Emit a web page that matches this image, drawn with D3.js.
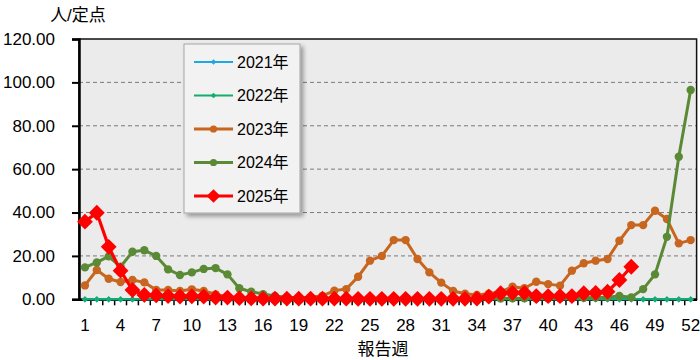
<!DOCTYPE html>
<html>
<head>
<meta charset="utf-8">
<script src="https://cdn.jsdelivr.net/npm/d3@7"></script>
<style>
  html, body { margin: 0; padding: 0; background: #fff; }
  svg { display: block; font-family: "Liberation Sans", "Noto Sans CJK JP", sans-serif; }
</style>
</head>
<body>
<svg width="700" height="360"></svg>
<script>
// Weeks 1..52 and the series (人/定点).
const weeks = d3.range(1, 53);
const weekLabels = [1, 4, 7, 10, 13, 16, 19, 22, 25, 28, 31, 34, 37, 40, 43, 46, 49, 52];
const yTicks = [0, 20, 40, 60, 80, 100, 120];

const v2021 = weeks.map(() => 0);
const v2022 = weeks.map(() => 0);
const v2023 = [6.4, 13.5, 9.5, 8.0, 8.9, 7.8, 4.3, 4.3, 3.8, 4.6,
  3.8, 2.3, 1.2, 0.8, 0.6, 0.5, 0.5, 0.5, 0.6, 1.0,
  1.6, 4.0, 4.7, 10.4, 17.8, 20.0, 27.3, 27.3, 18.6, 12.4,
  7.7, 3.8, 2.6, 2.0, 2.6, 3.5, 5.8, 5.1, 8.1, 7.0,
  6.3, 13.2, 16.6, 17.8, 18.6, 27.0, 34.2, 34.2, 40.8, 37.0,
  25.8, 27.3];
const v2024 = [14.7, 17.0, 19.8, 15.0, 21.9, 22.6, 20.0, 13.8, 11.2, 12.4,
  14.0, 14.4, 11.5, 5.1, 3.5, 2.4, 1.5, 1.0, 0.8, 0.7,
  0.6, 0.5, 0.5, 0.5, 0.4, 0.4, 0.4, 0.4, 0.4, 0.4,
  0.3, 0.3, 0.3, 0.3, 0.4, 0.4, 0.5, 0.5, 0.5, 0.5,
  0.5, 0.6, 0.7, 0.8, 1.0, 1.5, 0.9, 4.7, 11.5, 28.8,
  65.7, 96.5];
const v2025 = [35.8, 39.9, 24.2, 13.2, 4.3, 2.0, 1.8, 1.5, 1.3, 1.4,
  1.3, 0.8, 0.8, 0.5, 0.4, 0.3, 0.3, 0.3, 0.3, 0.3,
  0.3, 0.3, 0.3, 0.2, 0.2, 0.2, 0.2, 0.2, 0.2, 0.2,
  0.2, 0.2, 0.2, 0.3, 1.2, 2.8, 3.0, 3.0, 1.5, 1.5,
  1.5, 1.5, 2.8, 3.0, 3.5, 8.9, 15.0];

const seriesNames = ['2021年', '2022年', '2023年', '2024年', '2025年'];
const seriesValues = [v2021, v2022, v2023, v2024, v2025];

// Look of each series (diamonds are squares turned 45 degrees, as in Excel).
const styles = [
  { color: '#1ea7e2', width: 2, shape: d3.symbolSquare, rot: 45, size: 20 },
  { color: '#14ad6a', width: 2, shape: d3.symbolSquare, rot: 45, size: 20 },
  { color: '#c8651e', width: 3, shape: d3.symbolCircle, rot: 0, size: 55 },
  { color: '#5b8a36', width: 3, shape: d3.symbolCircle, rot: 0, size: 55 },
  { color: '#ff0000', width: 3.2, shape: d3.symbolSquare, rot: 45, size: 125 }
];

const svg = d3.select('svg');
const plotL = 79, plotR = 696.6, plotT = 39, plotB = 299.3;

const x = d3.scaleBand().domain(weeks).range([plotL, plotR]);
const xc = w => x(w) + x.bandwidth() / 2;
const y = d3.scaleLinear().domain([0, 120]).range([plotB, plotT]);

// Shadow filter for the legend.
const defs = svg.append('defs');
const f = defs.append('filter').attr('id', 'shadow')
  .attr('x', '-10%').attr('y', '-10%').attr('width', '130%').attr('height', '130%');
f.append('feDropShadow').attr('dx', 3).attr('dy', 3).attr('stdDeviation', 2)
  .attr('flood-color', '#000').attr('flood-opacity', 0.35);

// Plot area.
svg.append('rect')
  .attr('x', plotL).attr('y', plotT)
  .attr('width', plotR - plotL).attr('height', plotB - plotT)
  .attr('fill', '#ebebeb');

// Grid.
svg.append('g')
  .selectAll('line')
  .data(yTicks.filter(d => d > 0 && d < 120))
  .join('line')
  .attr('x1', plotL).attr('x2', plotR)
  .attr('y1', d => y(d)).attr('y2', d => y(d))
  .attr('stroke', '#7a7a7a').attr('stroke-width', 1)
  .attr('stroke-dasharray', '4,3');

// Border of the plot.
svg.append('rect')
  .attr('x', plotL).attr('y', plotT)
  .attr('width', plotR - plotL).attr('height', plotB - plotT)
  .attr('fill', 'none').attr('stroke', '#111').attr('stroke-width', 1.5);

// Y axis.
const yAxis = svg.append('g')
  .attr('transform', `translate(${plotL},0)`)
  .call(d3.axisLeft(y).tickValues(yTicks).tickSize(7).tickPadding(17)
    .tickFormat(d3.format('.2f')));
yAxis.select('.domain').attr('stroke', '#000').attr('stroke-width', 2.5);
yAxis.selectAll('.tick line').attr('stroke', '#000').attr('stroke-width', 2);
yAxis.selectAll('.tick text').attr('fill', '#000').attr('font-size', 17)
  .attr('font-family', '"Liberation Sans", sans-serif');

// X axis: ticks at each category boundary, labels every 3 weeks.
const xAxis = svg.append('g')
  .attr('transform', `translate(0,${plotB})`)
  .call(d3.axisBottom(x).tickValues(weekLabels).tickSize(0).tickPadding(20));
xAxis.select('.domain').attr('stroke', '#000').attr('stroke-width', 2.5);
xAxis.selectAll('.tick text').attr('fill', '#000').attr('font-size', 17)
  .attr('font-family', '"Liberation Sans", sans-serif');
svg.append('g')
  .selectAll('line')
  .data(weeks.slice(1))
  .join('line')
  .attr('x1', d => x(d)).attr('x2', d => x(d))
  .attr('y1', plotB).attr('y2', plotB + 6)
  .attr('stroke', '#000').attr('stroke-width', 1.5);

// Axis titles.
svg.append('text')
  .attr('x', 78).attr('y', 21)
  .attr('text-anchor', 'middle').attr('font-size', 17).attr('fill', '#000')
  .text('人/定点');
svg.append('text')
  .attr('x', 383).attr('y', 355)
  .attr('text-anchor', 'middle').attr('font-size', 17).attr('fill', '#000')
  .text('報告週');

// Series.
const line = d3.line().x((d, i) => xc(weeks[i])).y(d => y(d));
seriesValues.forEach((vals, k) => {
  const s = styles[k];
  const g = svg.append('g');
  g.append('path')
    .datum(vals)
    .attr('d', line)
    .attr('fill', 'none')
    .attr('stroke', s.color)
    .attr('stroke-width', s.width)
    .attr('stroke-linejoin', 'round');
  g.selectAll('path.m')
    .data(vals)
    .join('path')
    .attr('class', 'm')
    .attr('transform', (d, i) => `translate(${xc(weeks[i])},${y(d)}) rotate(${s.rot})`)
    .attr('d', d3.symbol().type(s.shape).size(s.size))
    .attr('fill', s.color);
});

// Legend.
const lg = svg.append('g');
lg.append('rect')
  .attr('x', 184).attr('y', 44).attr('width', 116).attr('height', 169)
  .attr('fill', '#f2f2f2').attr('stroke', '#a6a6a6').attr('stroke-width', 1)
  .attr('filter', 'url(#shadow)');
seriesNames.forEach((name, k) => {
  const s = styles[k];
  const ly = 62 + k * 33.5;
  lg.append('line')
    .attr('x1', 194).attr('x2', 233).attr('y1', ly).attr('y2', ly)
    .attr('stroke', s.color).attr('stroke-width', s.width);
  lg.append('path')
    .attr('transform', `translate(213.5,${ly}) rotate(${s.rot})`)
    .attr('d', d3.symbol().type(s.shape).size(s.size * 0.75))
    .attr('fill', s.color);
  lg.append('text')
    .attr('x', 237).attr('y', ly).attr('dy', '0.36em')
    .attr('font-size', 16).attr('fill', '#000')
    .text(name);
});
</script>
</body>
</html>
